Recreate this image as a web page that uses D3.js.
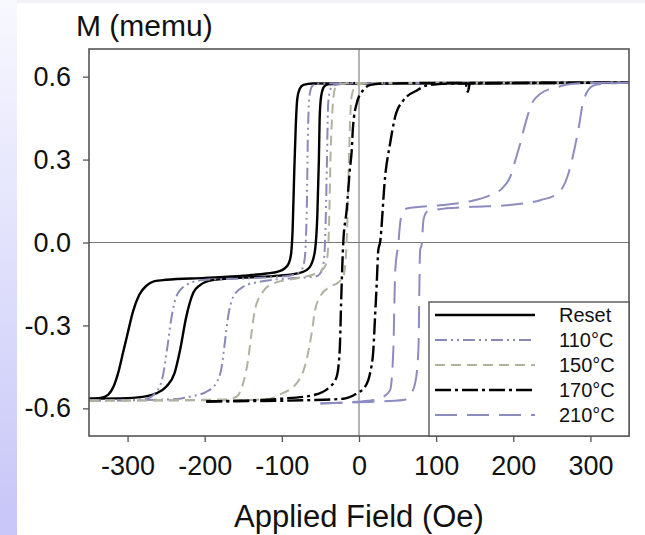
<!DOCTYPE html>
<html><head><meta charset="utf-8">
<script src="https://cdn.jsdelivr.net/npm/d3@7"></script>
<style>html,body{margin:0;padding:0;background:#fff;}svg{display:block;}</style>
</head><body>
<script>
// ---- data (H in Oe, M in memu) ----
const seriesNames = ["Reset", "110°C", "150°C", "170°C", "210°C"];
const xTicks = [-300, -200, -100, 0, 100, 200, 300];
const yTicks = [0.6, 0.3, 0.0, -0.3, -0.6];

const resetDesc = [[-350,-0.565],[-335,-0.562],[-325,-0.55],[-318,-0.52],[-312,-0.47],[-306,-0.40],[-300,-0.33],[-293,-0.25],[-285,-0.19],[-275,-0.155],[-265,-0.14],[-250,-0.135],[-200,-0.128],[-150,-0.12],[-120,-0.112],[-105,-0.105],[-97,-0.095],[-91,-0.075],[-88,-0.04],[-86,0.05],[-84,0.25],[-82,0.42],[-80,0.52],[-77,0.555],[-72,0.57],[-60,0.575],[0,0.576],[200,0.577],[350,0.578]];
const resetAsc = [[-350,-0.565],[-300,-0.563],[-275,-0.556],[-263,-0.546],[-250,-0.522],[-239,-0.472],[-232,-0.39],[-224,-0.27],[-215,-0.183],[-206,-0.154],[-190,-0.136],[-150,-0.127],[-103,-0.12],[-80,-0.112],[-68,-0.10],[-62,-0.08],[-57,-0.028],[-54,0.1],[-52,0.3],[-51,0.45],[-49,0.53],[-45,0.565],[-40,0.572],[0,0.576],[350,0.578]];

const c110Desc = [[-350,-0.572],[-300,-0.57],[-276,-0.565],[-261,-0.534],[-254.5,-0.486],[-249,-0.39],[-243,-0.27],[-237,-0.197],[-224,-0.154],[-203,-0.136],[-150,-0.13],[-90,-0.12],[-76,-0.105],[-71,-0.07],[-69,0.0],[-67.5,0.15],[-66.5,0.35],[-65,0.5],[-63,0.55],[-60,0.568],[-55,0.574],[0,0.577],[350,0.578]];
const c110Asc = [[-350,-0.572],[-250,-0.568],[-230,-0.564],[-219.5,-0.558],[-198,-0.54],[-185,-0.508],[-178,-0.45],[-174,-0.364],[-169.7,-0.269],[-163,-0.197],[-150,-0.16],[-128.6,-0.142],[-90,-0.13],[-55,-0.122],[-48,-0.1],[-45,-0.05],[-43,0.1],[-41.5,0.3],[-40,0.5],[-37,0.555],[-32,0.57],[0,0.576],[350,0.578]];

const c150Desc = [[-350,-0.572],[-175,-0.568],[-158.8,-0.558],[-150.3,-0.51],[-143.8,-0.425],[-139.4,-0.329],[-135,-0.245],[-126,-0.184],[-111,-0.148],[-81,-0.13],[-65,-0.12],[-50,-0.105],[-43,-0.08],[-40,-0.02],[-38.5,0.1],[-37,0.3],[-35,0.45],[-33,0.53],[-30,0.565],[-25,0.575],[0,0.577],[350,0.578]];
const c150Asc = [[-350,-0.572],[-150,-0.57],[-115,-0.565],[-103,-0.55],[-81,-0.51],[-68,-0.425],[-61.4,-0.329],[-57,-0.245],[-50.6,-0.197],[-37.7,-0.16],[-27,-0.145],[-20,-0.12],[-16,0.0],[-14,0.2],[-12,0.4],[-10,0.52],[-6,0.56],[0,0.572],[20,0.577],[350,0.578]];

const c170Desc = [[-198,-0.575],[-100,-0.565],[-59,-0.552],[-37.7,-0.522],[-29,-0.486],[-25,-0.39],[-23,-0.2],[-20.4,0.0],[-16,0.117],[-12,0.26],[-9.5,0.33],[-7.8,0.417],[-3,0.503],[5,0.55],[15,0.57],[30,0.575],[100,0.577],[138,0.577],[141,0.545],[144,0.577],[350,0.578]];
const c170Asc = [[-198,-0.575],[-60,-0.57],[-20,-0.565],[-3,-0.546],[7.8,-0.522],[14.3,-0.473],[18.6,-0.389],[20.8,-0.269],[23,-0.148],[25,-0.028],[27.3,0.0],[33.8,0.237],[40.3,0.358],[46.8,0.454],[57.5,0.514],[75,0.55],[88,0.568],[120,0.575],[350,0.578]];

const c210Desc = [[-50,-0.582],[-25,-0.58],[-3,-0.576],[18.6,-0.57],[31.6,-0.558],[40.3,-0.534],[44.5,-0.389],[47,-0.1],[51,-0.004],[53,0.06],[55.5,0.105],[62,0.123],[105,0.135],[140,0.147],[170,0.171],[187.4,0.201],[196,0.237],[202.6,0.297],[209,0.358],[215.6,0.43],[224,0.502],[235,0.538],[257,0.562],[270,0.572],[300,0.577],[350,0.578]];
const c210Asc = [[-50,-0.582],[-25,-0.58],[18.6,-0.576],[57.5,-0.57],[66,-0.552],[72.7,-0.51],[77,-0.389],[79.2,-0.028],[81.4,-0.004],[83.5,0.081],[88,0.111],[101,0.119],[148,0.129],[192,0.135],[235,0.153],[257,0.177],[270,0.237],[278,0.322],[285,0.418],[291,0.514],[304,0.568],[320,0.575],[350,0.578]];

const seriesData = [[resetDesc, resetAsc],[c110Desc, c110Asc],[c150Desc, c150Asc],[c170Desc, c170Asc],[c210Desc, c210Asc]];
const seriesColor = ["#000000", "#8a8ab8", "#b2b2a0", "#000000", "#8c8cc0"];
const seriesDash = ["", "12,4,2,4,2,4", "10,6", "16,4,3,4", "22,10"];
const seriesWidth = [2.4, 2, 2, 2.4, 2];

// ---- drawing ----
const W = 645, H = 535;
const svg = d3.select("body").append("svg").attr("width", W).attr("height", H);

const defs = svg.append("defs");
const grad = defs.append("linearGradient").attr("id","lg").attr("x1",0).attr("y1",0).attr("x2",0).attr("y2",1);
grad.append("stop").attr("offset","0%").attr("stop-color","#f8f8ff");
grad.append("stop").attr("offset","100%").attr("stop-color","#c6c6f8");
svg.append("rect").attr("x",0).attr("y",0).attr("width",W).attr("height",3).attr("fill","#f2f2f6");
svg.append("rect").attr("x",0).attr("y",0).attr("width",17).attr("height",H).attr("fill","url(#lg)");

const pL = 89, pR = 629, pT = 49, pB = 436;
const x = d3.scaleLinear().domain([-350, 350]).range([pL, pR]);
const y = d3.scaleLinear().domain([-0.7, 0.7]).range([pB, pT]);

const g = svg.append("g");
defs.append("clipPath").attr("id","clip").append("rect")
  .attr("x",pL).attr("y",pT).attr("width",pR-pL).attr("height",pB-pT);

// zero lines
g.append("line").attr("x1",x(0)).attr("x2",x(0)).attr("y1",pT).attr("y2",pB).attr("stroke","#777").attr("stroke-width",1.1);
g.append("line").attr("x1",pL).attr("x2",pR).attr("y1",y(0)).attr("y2",y(0)).attr("stroke","#777").attr("stroke-width",1.1);

const line = d3.line().x(d=>x(d[0])).y(d=>y(d[1])).curve(d3.curveMonotoneX);
const plot = g.append("g").attr("clip-path","url(#clip)");
seriesData.forEach((branches, i) => {
  branches.forEach(b => {
    plot.append("path").attr("d", line(b)).attr("fill","none")
      .attr("stroke", seriesColor[i]).attr("stroke-width", seriesWidth[i])
      .attr("stroke-dasharray", seriesDash[i] || null)
      .attr("stroke-linejoin","round");
  });
});

// frame
g.append("rect").attr("x",pL).attr("y",pT).attr("width",pR-pL).attr("height",pB-pT)
  .attr("fill","none").attr("stroke","#555").attr("stroke-width",1.6);

// axes
const xAxis = d3.axisBottom(x).tickValues(xTicks).tickSize(6).tickPadding(14).tickFormat(d3.format("d"));
const yAxis = d3.axisLeft(y).tickValues(yTicks).tickSize(6).tickPadding(12).tickFormat(d3.format(".1f"));
const gx = svg.append("g").attr("transform",`translate(0,${pB})`).call(xAxis);
const gy = svg.append("g").attr("transform",`translate(${pL},0)`).call(yAxis);
[gx, gy].forEach(a => {
  a.select(".domain").remove();
  a.selectAll(".tick line").attr("stroke","#555").attr("stroke-width",1.3);
  a.selectAll(".tick text").attr("fill","#111").style("font-family","Liberation Sans, Arial, sans-serif").style("font-size","27px");
});
gx.selectAll(".tick text").text(d => d < 0 ? "-" + Math.abs(d) : d);
gy.selectAll(".tick text").text(d => (d < 0 ? "-" : "") + Math.abs(d).toFixed(1));

svg.append("text").attr("x",76).attr("y",36).text("M (memu)")
  .style("font-family","Liberation Sans, Arial, sans-serif").style("font-size","30px").attr("fill","#111");
svg.append("text").attr("x",x(0)).attr("y",527).attr("text-anchor","middle").text("Applied Field (Oe)")
  .style("font-family","Liberation Sans, Arial, sans-serif").style("font-size","31px").attr("fill","#111");

// legend
const lg = svg.append("g");
lg.append("rect").attr("x",429).attr("y",302).attr("width",pR-429).attr("height",pB-302)
  .attr("fill","#fff").attr("stroke","#555").attr("stroke-width",1.4);
const rowY = [315, 340, 365, 390, 415];
seriesNames.forEach((n, i) => {
  lg.append("line").attr("x1",435).attr("x2",535).attr("y1",rowY[i]).attr("y2",rowY[i])
    .attr("stroke",seriesColor[i]).attr("stroke-width",seriesWidth[i]).attr("stroke-dasharray",seriesDash[i] || null);
  lg.append("text").attr("x",559).attr("y",rowY[i]+7).text(n)
    .style("font-family","Liberation Sans, Arial, sans-serif").style("font-size","20px").attr("fill","#111");
});
</script>
</body></html>
